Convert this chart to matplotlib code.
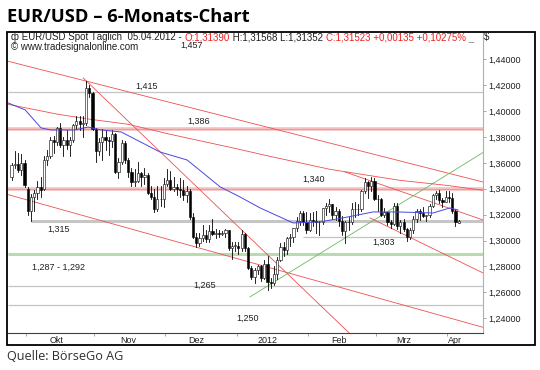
import numpy as np
import pandas as pd
import matplotlib
matplotlib.use("Agg")
import matplotlib.pyplot as plt
from matplotlib.patches import Rectangle

# trading days of the chart (Sep 26 2011 .. Apr 5 2012)
dates = pd.bdate_range("2011-09-26", "2012-04-05")

opens = [1.3490, 1.3580, 1.3590, 1.3545, 1.3600,
         1.3400, 1.3230, 1.3340, 1.3370, 1.3410, 1.3400, 1.3620, 1.3650, 1.3780, 1.3760,
         1.3870, 1.3740, 1.3780, 1.3740, 1.3780, 1.3890, 1.3920, 1.3900, 1.3910, 1.4180, 1.4140,
         1.3860, 1.3690, 1.3760, 1.3800, 1.3780, 1.3770, 1.3820, 1.3530, 1.3610, 1.3750, 1.3620,
         1.3530, 1.3450, 1.3460, 1.3520, 1.3490, 1.3510, 1.3370, 1.3340, 1.3240, 1.3320, 1.3320,
         1.3440, 1.3470, 1.3400, 1.3410, 1.3400, 1.3390, 1.3350, 1.3380, 1.3180, 1.3030, 1.2980,
         1.3020, 1.3040, 1.3010, 1.3070, 1.3050, 1.3060, 1.3050, 1.3060, 1.3080, 1.2940, 1.2960,
         1.2960, 1.2940, 1.3050, 1.2940, 1.2790, 1.2720, 1.2770, 1.2800, 1.2710, 1.2820, 1.2680,
         1.2670, 1.2740, 1.2850, 1.2950, 1.2930, 1.3020, 1.3030, 1.3100, 1.3150, 1.3210, 1.3140,
         1.3080, 1.3160, 1.3150, 1.3140, 1.3140, 1.3250, 1.3270, 1.3280, 1.3200, 1.3230, 1.3150,
         1.3070, 1.3140, 1.3140, 1.3240, 1.3240, 1.3240, 1.3380, 1.3450, 1.3420, 1.3460,
         1.3320, 1.3320, 1.3200, 1.3220, 1.3140, 1.3130, 1.3270, 1.3110, 1.3140, 1.3090, 1.3030,
         1.3080, 1.3170, 1.3230, 1.3210, 1.3190, 1.3200, 1.3270, 1.3350, 1.3370, 1.3310, 1.3300,
         1.3340, 1.3330, 1.3230, 1.3139]
highs = [1.3600, 1.3690, 1.3680, 1.3670, 1.3620,
         1.3410, 1.3360, 1.3390, 1.3460, 1.3490, 1.3650, 1.3700, 1.3800, 1.3810, 1.3880,
         1.3910, 1.3800, 1.3850, 1.3800, 1.3900, 1.3960, 1.3960, 1.3960, 1.4230, 1.4200, 1.4150,
         1.3870, 1.3790, 1.3860, 1.3850, 1.3800, 1.3850, 1.3830, 1.3640, 1.3780, 1.3770, 1.3640,
         1.3560, 1.3550, 1.3610, 1.3530, 1.3560, 1.3520, 1.3420, 1.3400, 1.3420, 1.3420, 1.3480,
         1.3550, 1.3540, 1.3490, 1.3440, 1.3480, 1.3470, 1.3420, 1.3400, 1.3210, 1.3060, 1.3060,
         1.3120, 1.3080, 1.3120, 1.3170, 1.3090, 1.3080, 1.3070, 1.3090, 1.3080, 1.2990, 1.2990,
         1.2990, 1.3080, 1.3060, 1.2950, 1.2800, 1.2790, 1.2810, 1.2810, 1.2850, 1.2880, 1.2710,
         1.2800, 1.2870, 1.2980, 1.2990, 1.3030, 1.3050, 1.3100, 1.3180, 1.3230, 1.3230, 1.3220,
         1.3210, 1.3220, 1.3230, 1.3150, 1.3250, 1.3290, 1.3320, 1.3280, 1.3260, 1.3240, 1.3190,
         1.3150, 1.3180, 1.3290, 1.3300, 1.3280, 1.3390, 1.3480, 1.3460, 1.3490, 1.3480,
         1.3350, 1.3330, 1.3250, 1.3220, 1.3160, 1.3290, 1.3290, 1.3160, 1.3170, 1.3100, 1.3100,
         1.3190, 1.3240, 1.3240, 1.3260, 1.3200, 1.3280, 1.3360, 1.3380, 1.3390, 1.3330, 1.3380,
         1.3380, 1.3370, 1.3240, 1.3157]
lows = [1.3470, 1.3560, 1.3530, 1.3510, 1.3410,
        1.3200, 1.3150, 1.3230, 1.3320, 1.3340, 1.3390, 1.3580, 1.3640, 1.3680, 1.3740,
        1.3720, 1.3650, 1.3710, 1.3650, 1.3760, 1.3860, 1.3850, 1.3800, 1.3890, 1.4110, 1.3850,
        1.3610, 1.3660, 1.3620, 1.3700, 1.3660, 1.3720, 1.3520, 1.3480, 1.3590, 1.3600, 1.3490,
        1.3420, 1.3420, 1.3450, 1.3420, 1.3440, 1.3360, 1.3320, 1.3220, 1.3230, 1.3270, 1.3260,
        1.3420, 1.3390, 1.3380, 1.3350, 1.3340, 1.3310, 1.3300, 1.3170, 1.3020, 1.2950, 1.2960,
        1.3000, 1.2990, 1.2990, 1.3040, 1.3020, 1.3030, 1.3040, 1.3030, 1.2930, 1.2860, 1.2920,
        1.2900, 1.2920, 1.2920, 1.2780, 1.2700, 1.2670, 1.2740, 1.2690, 1.2700, 1.2620, 1.2630,
        1.2660, 1.2700, 1.2840, 1.2880, 1.2900, 1.2960, 1.2990, 1.3070, 1.3120, 1.3120, 1.3060,
        1.3070, 1.3110, 1.3060, 1.3040, 1.3130, 1.3200, 1.3220, 1.3170, 1.3160, 1.3110, 1.3040,
        1.2980, 1.3080, 1.3130, 1.3180, 1.3200, 1.3230, 1.3370, 1.3330, 1.3380, 1.3310,
        1.3230, 1.3190, 1.3180, 1.3120, 1.3100, 1.3120, 1.3090, 1.3060, 1.3070, 1.3000, 1.3010,
        1.3060, 1.3140, 1.3160, 1.3180, 1.3150, 1.3180, 1.3260, 1.3320, 1.3290, 1.3260, 1.3300,
        1.3300, 1.3210, 1.3110, 1.3135]
closes = [1.3580, 1.3590, 1.3545, 1.3600, 1.3430,
          1.3230, 1.3340, 1.3370, 1.3410, 1.3390, 1.3620, 1.3650, 1.3780, 1.3760, 1.3870,
          1.3740, 1.3780, 1.3740, 1.3780, 1.3890, 1.3920, 1.3900, 1.3910, 1.4180, 1.4140, 1.3860,
          1.3690, 1.3760, 1.3800, 1.3780, 1.3770, 1.3820, 1.3530, 1.3610, 1.3750, 1.3620, 1.3530,
          1.3450, 1.3460, 1.3520, 1.3490, 1.3510, 1.3370, 1.3340, 1.3240, 1.3320, 1.3320, 1.3440,
          1.3470, 1.3400, 1.3410, 1.3400, 1.3390, 1.3350, 1.3380, 1.3180, 1.3030, 1.2980, 1.3020,
          1.3040, 1.3010, 1.3070, 1.3050, 1.3060, 1.3050, 1.3060, 1.3080, 1.2940, 1.2960, 1.2960,
          1.2940, 1.3050, 1.2940, 1.2790, 1.2720, 1.2770, 1.2800, 1.2710, 1.2820, 1.2680, 1.2670,
          1.2740, 1.2850, 1.2950, 1.2930, 1.3020, 1.3030, 1.3100, 1.3150, 1.3210, 1.3140, 1.3080,
          1.3160, 1.3150, 1.3140, 1.3140, 1.3250, 1.3270, 1.3280, 1.3200, 1.3230, 1.3150, 1.3070,
          1.3140, 1.3140, 1.3240, 1.3240, 1.3240, 1.3380, 1.3450, 1.3420, 1.3460, 1.3320,
          1.3320, 1.3200, 1.3220, 1.3140, 1.3130, 1.3270, 1.3110, 1.3140, 1.3090, 1.3030, 1.3080,
          1.3170, 1.3230, 1.3210, 1.3190, 1.3200, 1.3270, 1.3350, 1.3370, 1.3310, 1.3300, 1.3340,
          1.3330, 1.3230, 1.3140, 1.3152]

# moving averages (trading-day index, price)
ma_blue_idx = [-1.1, 4.2, 9.1, 12.2, 19.6, 23.6, 27.6, 33.8, 45.8, 54.2, 64.4, 70.5, 76.7,
               86.9, 95.2, 102.3, 111.6, 119, 130.1, 135.3, 137.8]
ma_blue_val = [1.4063, 1.4009, 1.3870, 1.3854, 1.3854, 1.3877, 1.3854, 1.3839, 1.3684,
               1.3622, 1.3414, 1.3337, 1.3252, 1.3136, 1.3144, 1.3175, 1.3221, 1.3221,
               1.3213, 1.3252, 1.3236]
ma_red_idx = [-1.1, 14.4, 24.5, 36.0, 48.9, 67.5, 79.8, 98.3, 119.9, 134.4, 145.5]
ma_red_val = [1.4052, 1.3975, 1.3936, 1.3898, 1.3821, 1.3720, 1.3650, 1.3550, 1.3465, 1.3426, 1.3388]

# support / resistance levels
levels = [1.415, 1.386, 1.340, 1.315, 1.303, 1.2895, 1.265, 1.250]
level_start = [-1.1, -1.1, -1.1, 6, 90, -1.1, -1.1, -1.1]
level_kind = ["gray", "red", "red", "gray2", "gray", "green", "gray", "gray"]
level_text = ["1,457", "1,415", "1,386", "1,340", "1,315", "1,303", "1,287 - 1,292", "1,265", "1,250"]
text_idx = [55.7, 41.8, 57.6, 93.1, 14.4, 114.7, 14.4, 59.7, 72.7]
text_val = [1.4510, 1.4190, 1.3920, 1.3470, 1.3083, 1.2985, 1.2795, 1.2654, 1.2397]

# trend lines: (start index, start price, end index, end price)
red_lines = [(-1.1, 1.4385, 145.5, 1.3452),
             (22.1, 1.4256, 104.2, 1.2286),
             (-1.1, 1.3355, 145.5, 1.2330),
             (102.9, 1.3530, 145.5, 1.3159),
             (110.6, 1.3175, 145.5, 1.2750)]
green_lines = [(73.6, 1.2565, 145.5, 1.3680)]

month_names = ["Okt", "Nov", "Dez", "2012", "Feb", "Mrz", "Apr"]
month_label_dates = ["2011-10-14", "2011-11-15", "2011-12-14", "2012-01-13",
                     "2012-02-14", "2012-03-13", "2012-04-04"]

W, H = 540, 370
fig = plt.figure(figsize=(W / 100, H / 100), dpi=100)
fig.patch.set_facecolor("white")


def px(x0, y0, x1, y1):
    return [x0 / W, 1 - y1 / H, (x1 - x0) / W, (y1 - y0) / H]


ax = fig.add_axes(px(8, 33, 483, 333))
ax.set_xlim(-1.1, 145.5)
ax.set_ylim(1.2286, 1.4603)

# horizontal levels
styles = {"gray": dict(color="#c4c4c4", lw=0.9),
          "gray2": dict(color="#c6c6c6", lw=2.2),
          "red": dict(color="#f6c0c0", lw=2.6),
          "green": dict(color="#b8dcb0", lw=2.2)}
for lv, st, kind in zip(levels, level_start, level_kind):
    ax.plot([st, 145.5], [lv, lv], zorder=1, solid_capstyle="butt", **styles[kind])
    if kind == "red":
        ax.plot([st, 145.5], [lv, lv], color="#f08888", lw=0.5, zorder=1)

for x0, y0, x1, y1 in red_lines:
    ax.plot([x0, x1], [y0, y1], color="#ee5050", lw=0.6, zorder=2)
for x0, y0, x1, y1 in green_lines:
    ax.plot([x0, x1], [y0, y1], color="#6cb860", lw=0.6, zorder=2)

ax.plot(ma_red_idx, ma_red_val, color="#ee5050", lw=0.6, zorder=2)
ax.plot(ma_blue_idx, ma_blue_val, color="#4848e0", lw=0.7, zorder=4)

# candles
idx = np.arange(len(dates))
for i, o, h, l, c in zip(idx, opens, highs, lows, closes):
    ax.plot([i, i], [l, h], color="black", lw=0.6, zorder=3)
    lo, hi = min(o, c), max(o, c)
    face = "white" if c >= o else "black"
    ax.add_patch(Rectangle((i - 0.34, lo), 0.68, max(hi - lo, 0.0003),
                           facecolor=face, edgecolor="black", lw=0.4, zorder=3))

for t, xi, yv in zip(level_text, text_idx, text_val):
    ax.text(xi, yv, t, fontsize=6.5, color="#202020", ha="center", va="center",
            family="Liberation Sans")

# axes
for s in ["top", "left"]:
    ax.spines[s].set_visible(False)
ax.spines["bottom"].set_color("#404040")
ax.spines["right"].set_color("#b0b0b0")
ax.yaxis.tick_right()
yt = np.arange(1.24, 1.4401, 0.02)
ax.set_yticks(yt)
ax.set_yticklabels([("%.5f" % v).replace(".", ",") for v in yt], fontsize=6.5,
                   family="Liberation Sans", color="#202020")
ax.tick_params(axis="y", length=2, width=0.5, color="#808080", pad=2)

months = dates.to_period("M")
bounds = [i - 0.5 for i in range(1, len(dates)) if months[i] != months[i - 1]]
label_pos = [dates.searchsorted(pd.Timestamp(d)) for d in month_label_dates]
ax.set_xticks(bounds)
ax.set_xticklabels([])
ax.set_xticks(label_pos, minor=True)
ax.set_xticklabels(month_names, minor=True, fontsize=6.5, family="Liberation Sans",
                   color="#202020")
ax.tick_params(axis="x", which="major", length=2, width=0.5, color="#808080")
ax.tick_params(axis="x", which="minor", length=0, pad=2)

# outer frame and texts
fig.patches.append(Rectangle((7 / W, 1 - 345 / H), 528 / W, 313 / H, transform=fig.transFigure,
                             fill=False, edgecolor="black", lw=1.3))
fig.text(7 / W, 1 - 17 / H, "EUR/USD – 6-Monats-Chart", fontsize=13.2, fontweight="bold",
         family="Open Sans", va="center")
fig.text(7 / W, 1 - 357 / H, "Quelle: BörseGo AG", fontsize=9.1, family="Open Sans",
         va="center", color="#303030")

hdr = [("ф EUR/USD Spot Täglich  05.04.2012 - ", "#202020"),
       ("O:1,31390", "#ee2020"),
       (" H:1,31568 L:1,31352 ", "#202020"),
       ("C:1,31523 +0,00135 +0,10275%", "#ee2020"),
       (" _", "#808080")]
xx = 11
renderer = fig.canvas.get_renderer()
for s, col in hdr:
    t = fig.text(xx / W, 1 - 37 / H, s, fontsize=7, family="Liberation Sans", color=col,
                 va="center")
    xx += t.get_window_extent(renderer).width
fig.text(11 / W, 1 - 47 / H, "© www.tradesignalonline.com", fontsize=7,
         family="Liberation Sans", color="#202020", va="center")
fig.text(484 / W, 1 - 37 / H, "$", fontsize=7, family="Liberation Sans", color="#202020",
         va="center")

fig.savefig("out.png", dpi=100)
